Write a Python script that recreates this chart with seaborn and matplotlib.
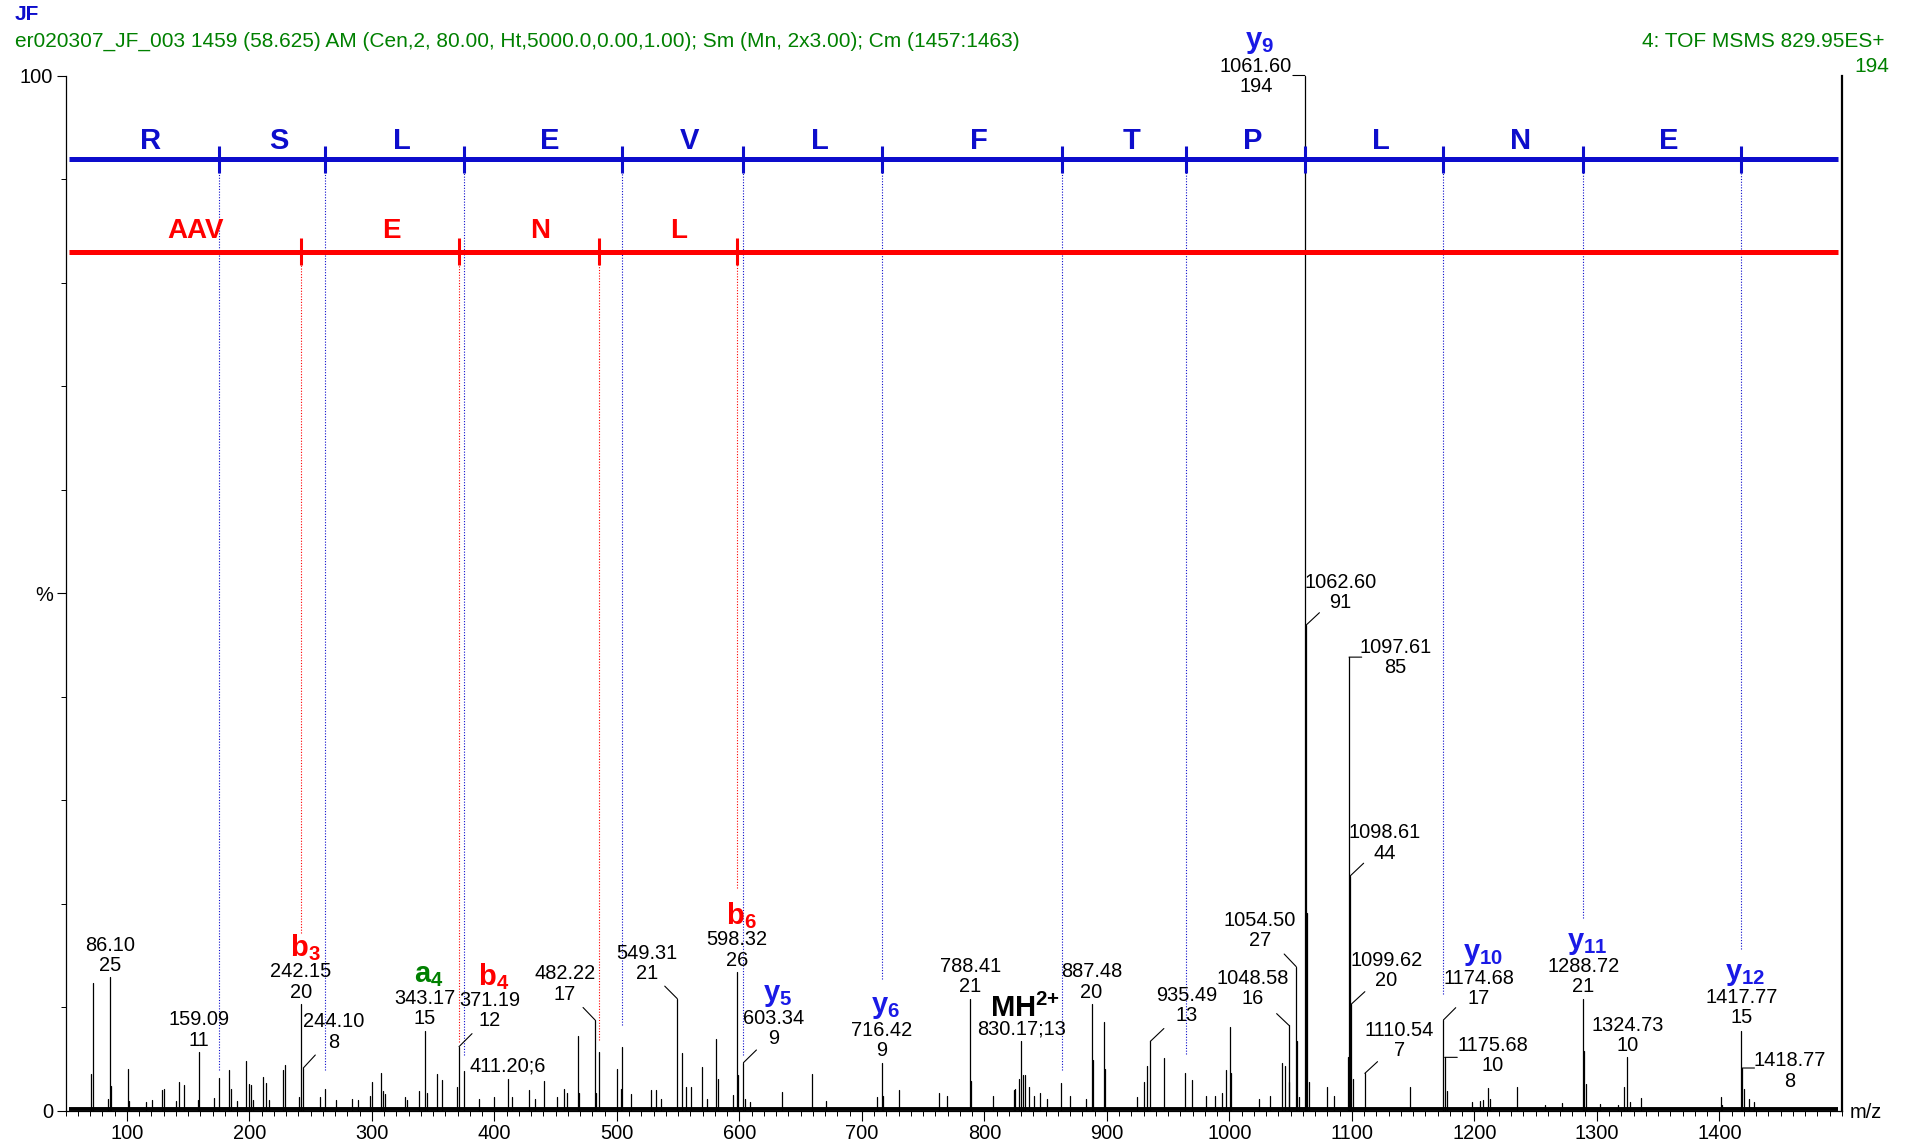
import numpy as np
import pandas as pd
import matplotlib
matplotlib.use("Agg")
import matplotlib.pyplot as plt
from matplotlib.ticker import MultipleLocator, FixedLocator
import seaborn as sns

# labelled peaks: m/z and raw counts (100 % = 194)
lab_mz = [86.10, 159.09, 242.15, 244.10, 343.17, 371.19, 411.20, 482.22, 549.31,
          598.32, 603.34, 716.42, 788.41, 830.17, 887.48, 935.49, 1048.58, 1054.50,
          1061.60, 1062.60, 1097.61, 1098.61, 1099.62, 1110.54, 1174.68, 1175.68,
          1288.72, 1324.73, 1417.77, 1418.77]
lab_int = [25, 11, 20, 8, 15, 12, 6, 17, 21, 26, 9, 9, 21, 13, 20, 13, 16, 27,
           194, 91, 85, 44, 20, 7, 17, 10, 21, 10, 15, 8]
single_line = [411.20, 830.17]

# unlabelled peaks
minor_mz = [70.5, 72.1, 84.4, 87.1, 101.3, 102.0, 115.4, 120.3, 129.0, 130.4, 139.9,
            142.9, 147.0, 157.9, 171.0, 175.3, 183.5, 184.8, 189.7, 197.1, 200.1,
            201.2, 202.8, 211.2, 213.4, 216.4, 227.8, 229.5, 240.4, 257.8, 262.2,
            270.6, 283.6, 289.0, 298.6, 300.2, 307.3, 309.5, 311.0, 326.7, 328.6,
            338.9, 344.9, 353.1, 357.2, 369.4, 374.9, 387.2, 399.4, 414.4, 428.6,
            433.5, 440.3, 451.2, 457.2, 459.3, 468.0, 468.9, 483.3, 485.7, 499.9,
            503.7, 504.4, 511.3, 528.2, 532.2, 536.3, 553.4, 556.7, 560.8, 569.5,
            573.3, 580.9, 582.3, 594.8, 599.1, 605.0, 608.6, 634.5, 659.5, 670.4,
            712.6, 717.5, 730.3, 763.0, 769.8, 789.4, 807.0, 824.0, 825.3, 828.0,
            831.6, 833.5, 836.2, 840.3, 845.7, 851.2, 862.9, 870.2, 883.3, 888.5,
            897.4, 898.2, 924.6, 930.0, 932.8, 946.8, 963.7, 969.1, 980.6, 988.2,
            993.6, 996.9, 1000.2, 1001.0, 1024.1, 1033.1, 1043.2, 1045.1, 1049.0,
            1055.5, 1056.5, 1063.6, 1065.0, 1080.0, 1085.5, 1096.4, 1100.5, 1147.7,
            1177.6, 1198.0, 1204.8, 1207.0, 1211.0, 1212.4, 1234.7, 1257.3, 1271.5,
            1289.7, 1291.0, 1302.7, 1316.9, 1321.8, 1327.2, 1336.2, 1401.0, 1402.0,
            1419.8, 1424.0, 1428.5]
minor_int = [6.8, 24, 2.2, 4.7, 7.8, 1.9, 1.6, 2.0, 3.9, 4.0, 1.9,
             5.4, 4.9, 2.0, 2.3, 6.2, 7.7, 4.0, 1.9, 9.4, 5.0,
             4.8, 2.0, 6.4, 5.1, 2.0, 7.7, 8.6, 2.5, 2.5, 4.0,
             2.0, 2.2, 2.0, 2.8, 5.4, 7.0, 3.7, 3.2, 2.6, 2.0,
             3.7, 3.4, 6.8, 5.8, 4.4, 7.5, 2.2, 2.5, 2.5, 3.9,
             2.2, 5.6, 2.5, 4.0, 3.4, 14.0, 3.4, 3.4, 11.0, 7.8,
             4.0, 11.9, 3.1, 3.9, 3.8, 2.2, 10.8, 4.4, 4.4, 8.2,
             2.2, 13.5, 6.0, 3.0, 6.6, 2.2, 1.6, 3.5, 6.8, 1.9,
             2.5, 2.8, 3.8, 3.3, 2.8, 5.6, 2.8, 3.8, 4.0, 6.0,
             6.6, 6.7, 4.4, 2.8, 3.4, 2.2, 5.1, 2.8, 2.2, 9.5,
             16.7, 7.8, 2.5, 5.3, 8.4, 9.9, 7.0, 5.8, 2.8, 2.8,
             3.4, 7.7, 15.6, 7.0, 2.2, 2.8, 9.0, 8.4, 5.3,
             13.0, 2.5, 37.0, 5.3, 4.5, 2.8, 10.0, 6.0, 4.5,
             3.6, 1.6, 1.9, 2.0, 4.2, 2.2, 4.4, 1.0, 1.4,
             11.2, 5.0, 1.3, 1.0, 4.4, 1.6, 2.3, 2.6, 1.0,
             4.0, 2.2, 1.6]

# sequence ladders
y_ions = [175.12, 262.15, 375.24, 504.28, 603.34, 716.42, 863.50, 964.55,
          1061.60, 1174.68, 1288.72, 1417.77]
y_seq = ["R", "S", "L", "E", "V", "L", "F", "T", "P", "L", "N", "E"]
b_ions = [242.15, 371.19, 485.23, 598.32]
b_seq = ["AAV", "E", "N", "L"]

# fragment annotations on peaks
ion_peak = [242.15, 343.17, 371.19, 598.32, 603.34, 716.42, 1061.60, 1174.68,
            1288.72, 1417.77, 830.17]
ion_type = ["b", "a", "b", "b", "y", "y", "y", "y", "y", "y", "MH"]
ion_num = ["3", "4", "4", "6", "5", "6", "9", "10", "11", "12", "2+"]

# ---- layout (pixels at 100 dpi) ----
PT = 0.72
label_pos = {
    86.10: (0, 22, None), 159.09: (0, 22, None), 242.15: (0, 22, None),
    244.10: (30, 36, (12, 13)), 343.17: (0, 22, None), 371.19: (31, 36, (13, 13)),
    411.20: (0, 13, None), 482.22: (-30, 36, (-12, 12.5)),
    549.31: (-30, 35, (-12.5, 12.5)), 598.32: (0, 22, None),
    603.34: (30, 34, (13, 12.7)), 716.42: (0, 22, None), 788.41: (0, 22, None),
    830.17: (0, 12, None), 887.48: (0, 22, None), 935.49: (36, 36, (13.5, 12.8)),
    1048.58: (-36, 37, (-12.3, 11.7)), 1054.50: (-36.5, 36, (-12, 12.6)),
    1061.60: (-49, -1, (-12, 0)), 1062.60: (34.5, 33, (13.3, 12.4)),
    1097.61: (46.5, 0, (12.7, 0)), 1098.61: (34.3, 33, (13.4, 12.7)),
    1099.62: (34.7, 33.7, (13.4, 12.3)), 1110.54: (34.7, 32.6, (12.7, 11.7)),
    1174.68: (35.2, 31.5, (12.3, 12.3)), 1175.68: (48, 2, (12.6, 0)),
    1288.72: (0, 22, None), 1324.73: (0, 22, None), 1417.77: (0, 23, None),
    1418.77: (47.7, -3, (12, 0)),
}
y_drop = [7.6, 7.6, 10.4, 16.1, 10.4, 24.7, 7.6, 10.6, None, 21.8, 36.1, 30.3]
b_drop = [33.3, 12.8, 13.3, 41.8]
Y_LINE, B_LINE = 178.3, 161.0
SEQ_START, SEQ_END = 53, 1496.5

BLUE = "#0d0dcc"
ION_BLUE = "#1a1ae6"
RED = "#ff0000"
GREEN = "#008000"
ion_color = {"b": RED, "a": GREEN, "y": ION_BLUE, "MH": "black"}

sns.set_theme(style="ticks")
plt.rcParams["font.family"] = ["Liberation Sans", "DejaVu Sans"]
plt.rcParams["mathtext.fontset"] = "custom"
plt.rcParams["mathtext.rm"] = "Liberation Sans"
plt.rcParams["mathtext.bf"] = "Liberation Sans:bold"
plt.rcParams["text.color"] = "black"

fig = plt.figure(figsize=(19.1, 11.44), dpi=100)
ax = fig.add_axes([65.5 / 1910, 1 - 1110.7 / 1144, 1776.5 / 1910, (1110.7 - 75.5) / 1144])

all_mz = lab_mz + minor_mz
all_int = lab_int + minor_int
sticks = pd.DataFrame({
    "mz": np.repeat(all_mz, 2),
    "counts": np.ravel([[0.0, h] for h in all_int]),
    "peak": np.repeat(np.arange(len(all_mz)), 2),
})
# noise floor
ax.plot([SEQ_START, SEQ_END], [0.4, 0.4], color="black", lw=2.8, solid_capstyle="butt")
sns.lineplot(data=sticks, x="mz", y="counts", units="peak", estimator=None,
             color="black", lw=0.9, ax=ax, legend=False, sort=False)

ax.set_xlim(50, 1500)
ax.set_ylim(0, 194)
ax.set_xlabel("")
ax.set_ylabel("")

# spines / ticks
ax.spines["top"].set_visible(False)
for s in ["left", "bottom"]:
    ax.spines[s].set_color("black")
    ax.spines[s].set_linewidth(0.9)
ax.spines["right"].set_color("black")
ax.spines["right"].set_linewidth(1.6)
ax.set_xticks(range(100, 1500, 100))
ax.xaxis.set_minor_locator(MultipleLocator(10))
ax.set_yticks([0, 97, 194])
ax.set_yticklabels(["0", "%", "100"])
ax.yaxis.set_minor_locator(FixedLocator([19.4 * k for k in range(1, 10)]))
ax.tick_params(axis="x", which="major", length=7.2, width=0.8, pad=2.5, labelsize=14.4,
               colors="black", direction="out")
ax.tick_params(axis="x", which="minor", length=3.6, width=0.7, colors="black", direction="out")
ax.tick_params(axis="y", which="major", length=6.5, width=0.8, pad=2.5, labelsize=14.4,
               colors="black", direction="out")
ax.tick_params(axis="y", which="minor", length=3.4, width=0.7, colors="black", direction="out")
ax.annotate("m/z", xy=(1, 0), xycoords="axes fraction", xytext=(8 * PT, -2 * PT),
            textcoords="offset points", ha="left", va="center", fontsize=14.4)

# ladders
for yl, ions, col, seq, drops, fs, dx, up in [
        (Y_LINE, y_ions, BLUE, y_seq, y_drop, 21, 7, 18.5),
        (B_LINE, b_ions, RED, b_seq, b_drop, 20, 11, 21)]:
    ax.plot([SEQ_START, SEQ_END], [yl, yl], color=col, lw=3.6, solid_capstyle="butt",
            clip_on=False, zorder=4)
    ax.vlines(ions, yl - 2.5, yl + 2.5, color=col, lw=2.2, zorder=4)
    edges = [SEQ_START] + ions
    for k, letter in enumerate(seq):
        mid = (edges[k] + edges[k + 1]) / 2
        ax.annotate(letter, xy=(mid, yl), xytext=(dx * PT, up * PT),
                    textcoords="offset points", ha="center", va="center",
                    fontsize=fs, fontweight="bold", color=col)
    for m, d in zip(ions, drops):
        if d is None:
            continue
        ax.vlines(m, d, yl, color=col, lw=0.8, linestyles=(0, (1, 1.5)), zorder=3)

# peak labels
block_center = {}
for m, h in zip(lab_mz, lab_int):
    dx, dy, lead = label_pos[m]
    txt = f"{m:.2f};{h}" if m in single_line else f"{m:.2f}\n{h}"
    ax.annotate(txt, xy=(m, h), xytext=(dx * PT, dy * PT), textcoords="offset points",
                ha="center", va="center", fontsize=14.4, linespacing=1.08,
                annotation_clip=False)
    if lead is not None:
        ax.annotate("", xy=(m, h), xytext=(lead[0] * PT, lead[1] * PT),
                    textcoords="offset points", annotation_clip=False,
                    arrowprops=dict(arrowstyle="-", lw=0.8, color="black",
                                    shrinkA=0, shrinkB=0))
    block_center[m] = (h, dx, dy)

for m, t, n in zip(ion_peak, ion_type, ion_num):
    h, dx, dy = block_center[m]
    if t == "MH":
        txt = r"$\mathbf{MH}^{\mathbf{2{+}}}$"
        up, fs = 21, 21
    else:
        txt = r"$\mathbf{%s}_{\mathbf{%s}}$" % (t, n)
        up, fs = 34, 21
    ax.annotate(txt, xy=(m, h), xytext=((dx + 4) * PT, (dy + up) * PT),
                textcoords="offset points", ha="center", va="center", fontsize=fs,
                color=ion_color[t], annotation_clip=False)

# header
fig.text(15 / 1910, 1 - 14.6 / 1144, "JF", fontsize=15, fontweight="bold", color=BLUE,
         ha="left", va="center")
fig.text(14.6 / 1910, 1 - 41.4 / 1144,
         "er020307_JF_003 1459 (58.625) AM (Cen,2, 80.00, Ht,5000.0,0.00,1.00); "
         "Sm (Mn, 2x3.00); Cm (1457:1463)",
         fontsize=15, color=GREEN, ha="left", va="center")
fig.text(1884 / 1910, 1 - 41.7 / 1144, "4: TOF MSMS 829.95ES+", fontsize=15,
         color=GREEN, ha="right", va="center")
fig.text(1889 / 1910, 1 - 66.7 / 1144, "194", fontsize=15, color=GREEN,
         ha="right", va="center")

fig.savefig("out.png", dpi=100, facecolor="white")
